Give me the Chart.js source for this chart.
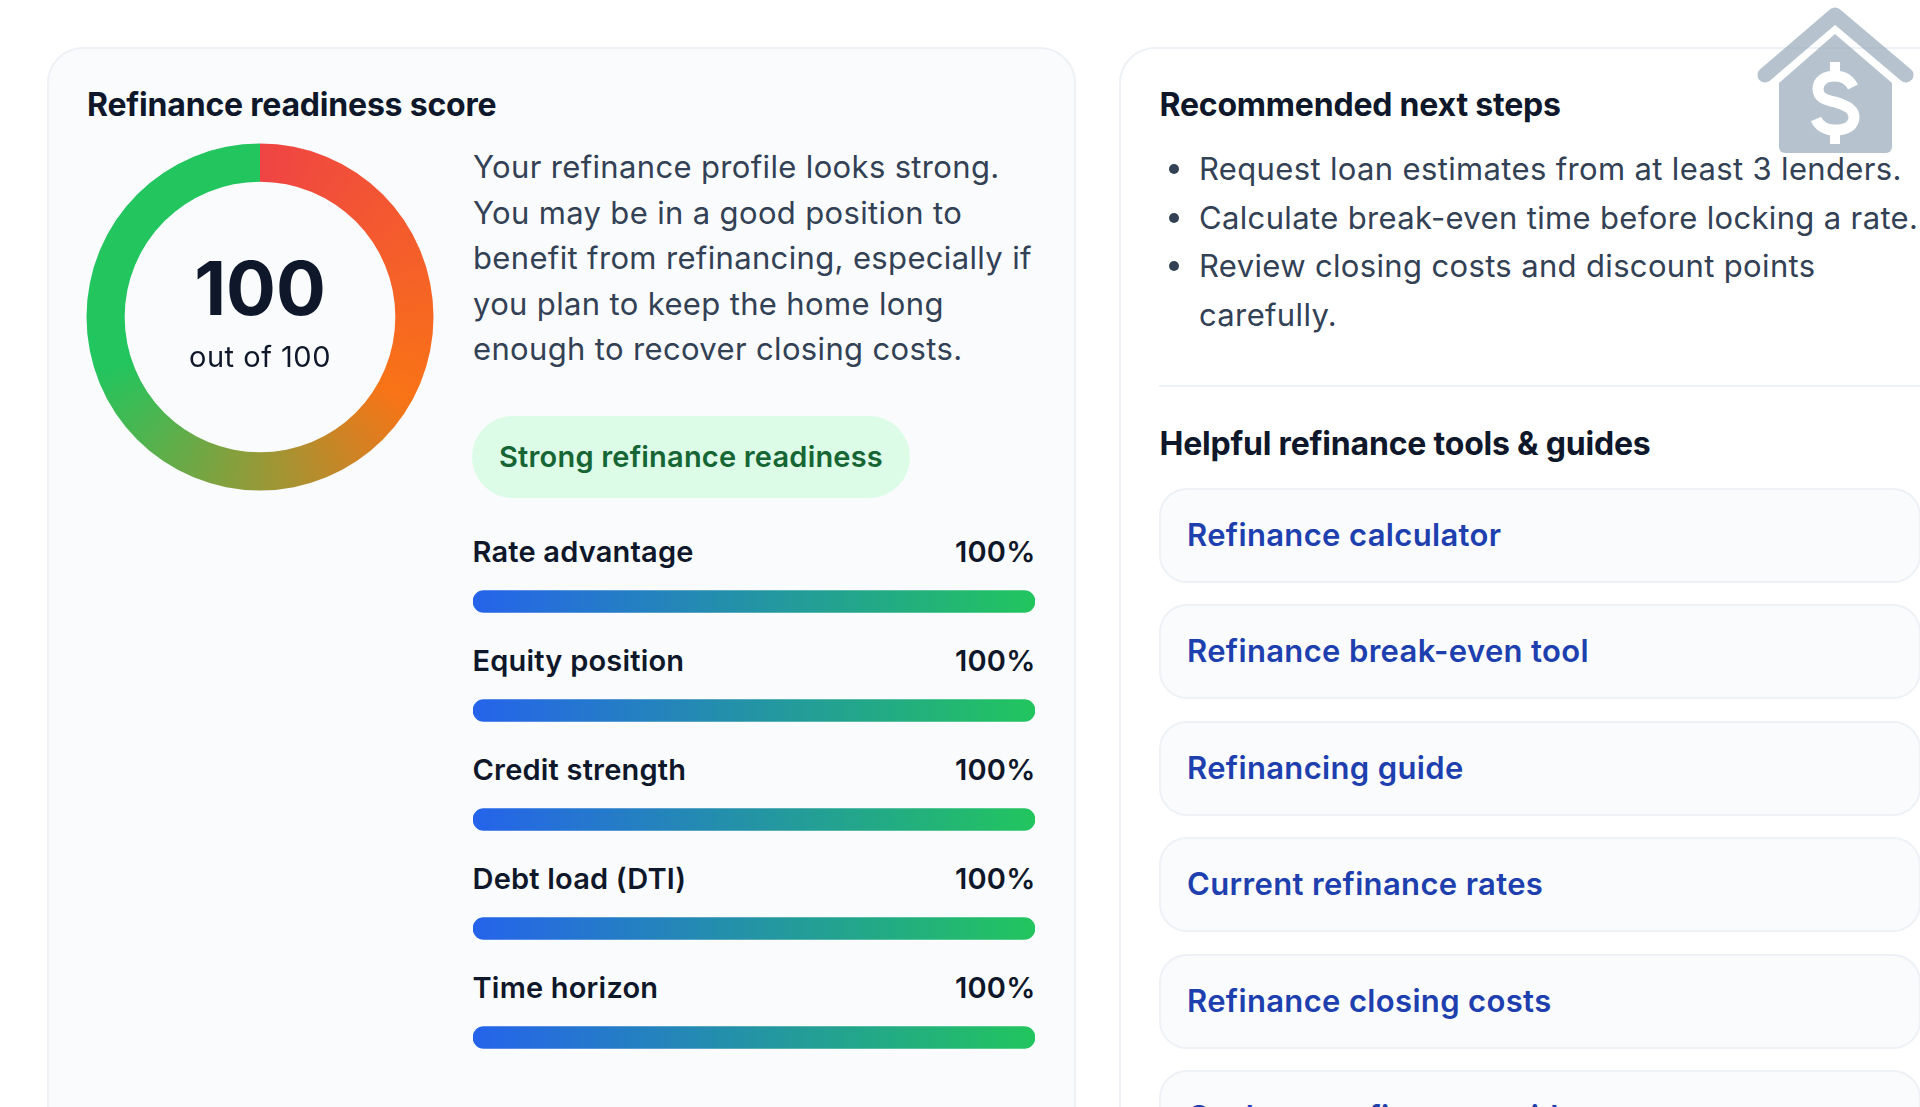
<!DOCTYPE html>
<html lang="en">
<head>
<meta charset="utf-8">
<title>Refinance readiness score</title>
<script src="https://cdn.jsdelivr.net/npm/chart.js@4"></script>
<style>
  html, body { margin: 0; padding: 0; background: #fff; }
  body { position: relative; width: 1920px; height: 1107px; overflow: hidden; font-family: Inter, sans-serif; color: #0f172a; }
  .card { position: absolute; top: 47px; height: 1200px; box-sizing: border-box; border: 2px solid #eef1f5; border-radius: 36px; }
  #left-card { left: 47px; width: 1029px; background: #f9fbfd; }
  #right-card { left: 1119px; width: 1000px; background: #fff; }
  h2 { position: absolute; margin: 0; font-size: 32px; line-height: 40px; font-weight: 700; letter-spacing: -0.2px; white-space: nowrap; }
  #gauge-wrap { position: absolute; left: 80px; top: 137px; width: 360px; height: 360px; }
  #gauge-center { position: absolute; left: 80px; top: 137px; width: 360px; height: 360px; text-align: center; }
  #score-value { position: absolute; left: 0; right: 0; top: 111px; font-size: 74px; line-height: 80px; font-weight: 700; }
  #score-sub { position: absolute; left: 0; right: 0; top: 202px; font-size: 29px; line-height: 36px; letter-spacing: 0.5px; }
  #summary { position: absolute; left: 473px; top: 144px; width: 580px; margin: 0; font-size: 31px; line-height: 45.6px; letter-spacing: 0.35px; color: #334155; }
  #badge { position: absolute; left: 472px; top: 416px; width: 438px; height: 82px; border-radius: 41px; background: #dcfce7; color: #166534; font-size: 29px; letter-spacing: 0.2px; font-weight: 600; line-height: 82px; text-align: center; }
  #bars-wrap { position: absolute; left: 473px; top: 546.5px; width: 562px; height: 545px; }
  .bar-label { position: absolute; left: 472.5px; width: 563px; display: flex; justify-content: space-between; font-size: 29px; letter-spacing: 0.2px; line-height: 36px; font-weight: 600; }
  #steps { position: absolute; left: 1160px; top: 145.4px; width: 760px; margin: 0; padding: 0 0 0 39px; list-style: none; font-size: 31px; letter-spacing: 0.35px; line-height: 48.4px; color: #334155; }
  #steps li { position: relative; }
  #steps li::before { content: ''; position: absolute; left: -30px; top: 19px; width: 10px; height: 10px; border-radius: 50%; background: #334155; }
  #divider { position: absolute; left: 1159px; top: 385px; width: 761px; height: 2px; background: #eef1f5; }
  .tool { position: absolute; left: 1159px; width: 762px; height: 95px; box-sizing: border-box; border: 2px solid #eef1f5; border-radius: 28px; background: #f9fbfd; color: #1e40af; font-size: 31px; letter-spacing: 0.35px; font-weight: 600; line-height: 90px; padding-left: 26px; }
  #house { position: absolute; left: 1750px; top: 0; width: 170px; height: 160px; }
</style>
</head>
<body>
  <div class="card" id="left-card"></div>
  <div class="card" id="right-card"></div>

  <h2 style="left:87px;top:85px">Refinance readiness score</h2>
  <div id="gauge-wrap"><canvas id="gaugeChart"></canvas></div>
  <div id="gauge-center">
    <div id="score-value"></div>
    <div id="score-sub"></div>
  </div>
  <p id="summary">Your refinance profile looks strong.<br>You may be in a good position to<br>benefit from refinancing, especially if<br>you plan to keep the home long<br>enough to recover closing costs.</p>
  <div id="badge">Strong refinance readiness</div>

  <div id="bar-labels"></div>
  <div id="bars-wrap"><canvas id="factorChart"></canvas></div>

  <h2 style="left:1159.5px;top:85px">Recommended next steps</h2>
  <ul id="steps"></ul>
  <div id="divider"></div>
  <h2 style="left:1159.5px;top:424px">Helpful refinance tools &amp; guides</h2>
  <div id="tools"></div>

  <svg id="house" viewBox="1750 0 170 160">
    <g opacity="0.68">
      <path d="M1765 75 L1835 15 L1906 75" fill="none" stroke="#94a8b9" stroke-width="15" stroke-linecap="round" stroke-linejoin="round"/>
      <path d="M1835 34 L1892 83 V147 a6 6 0 0 1 -6 6 H1785 a6 6 0 0 1 -6 -6 V83 Z" fill="#94a8b9"/>
    </g>
    <path d="M1835 62 V76 M1835 130 V144" stroke="#fff" stroke-width="10" fill="none"/>
    <path d="M1853 87 C1849 79 1843 76 1835 76 C1825 76 1818 81 1818 89 C1818 98 1826 100 1835 102 C1846 105 1854 109 1854 117 C1854 126 1846 130 1835 130 C1826 130 1819 126 1816 119" fill="none" stroke="#fff" stroke-width="11"/>
  </svg>

<script>
const SCORE_LABELS = ['Score', 'Remaining'];
const SCORE_VALUES = [100, 0];
const SCORE_MAX = 100;
const FACTOR_LABELS = ['Rate advantage', 'Equity position', 'Credit strength', 'Debt load (DTI)', 'Time horizon'];
const FACTOR_VALUES = [100, 100, 100, 100, 100];
const NEXT_STEPS = [
  'Request loan estimates from at least 3 lenders.',
  'Calculate break-even time before locking a rate.',
  'Review closing costs and discount points carefully.'
];
const TOOL_LINKS = [
  'Refinance calculator',
  'Refinance break-even tool',
  'Refinancing guide',
  'Current refinance rates',
  'Refinance closing costs',
  'Cash-out refinance guide'
];

function fillText() {
  document.getElementById('score-value').textContent = SCORE_VALUES[0];
  document.getElementById('score-sub').textContent = 'out of ' + SCORE_MAX;

  document.getElementById('steps').innerHTML = NEXT_STEPS.map(s => `<li>${s}</li>`).join('');

  document.getElementById('bar-labels').innerHTML = FACTOR_LABELS.map((label, i) =>
    `<div class="bar-label" style="top:${534 + i * 109}px"><span>${label}</span><span>${FACTOR_VALUES[i]}%</span></div>`
  ).join('');

  document.getElementById('tools').innerHTML = TOOL_LINKS.map((label, i) =>
    `<div class="tool" style="top:${488 + i * 116.4}px">${label}</div>`
  ).join('');
}

function gaugeGradient(context) {
  const chart = context.chart;
  if (!chart.chartArea) return '#22c55e';
  const cx = (chart.chartArea.left + chart.chartArea.right) / 2;
  const cy = (chart.chartArea.top + chart.chartArea.bottom) / 2;
  const g = chart.ctx.createConicGradient(-Math.PI / 2, cx, cy);
  g.addColorStop(0, '#ef4444');
  g.addColorStop(0.33, '#f97316');
  g.addColorStop(0.7, '#22c55e');
  g.addColorStop(1, '#22c55e');
  return g;
}

function barGradient(context) {
  const chart = context.chart;
  if (!chart.chartArea) return '#2563eb';
  const g = chart.ctx.createLinearGradient(chart.chartArea.left, 0, chart.chartArea.right, 0);
  g.addColorStop(0, '#2563eb');
  g.addColorStop(1, '#22c55e');
  return g;
}

function initGauge() {
  new Chart(document.getElementById('gaugeChart'), {
    type: 'doughnut',
    data: {
      labels: SCORE_LABELS,
      datasets: [{ data: SCORE_VALUES, backgroundColor: gaugeGradient, borderWidth: 0 }]
    },
    options: {
      responsive: true,
      maintainAspectRatio: false,
      animation: false,
      cutout: '78%',
      layout: { padding: 6.5 },
      plugins: { legend: { display: false }, tooltip: { enabled: false } }
    }
  });
}

function initBars() {
  new Chart(document.getElementById('factorChart'), {
    type: 'bar',
    data: {
      labels: FACTOR_LABELS,
      datasets: [{
        data: FACTOR_VALUES,
        backgroundColor: barGradient,
        borderRadius: 11,
        borderSkipped: false,
        barThickness: 22
      }]
    },
    options: {
      indexAxis: 'y',
      responsive: true,
      maintainAspectRatio: false,
      animation: false,
      scales: {
        x: { display: false, min: 0, max: 100 },
        y: { display: false }
      },
      plugins: { legend: { display: false }, tooltip: { enabled: false } }
    }
  });
}

document.addEventListener('DOMContentLoaded', () => {
  fillText();
  initGauge();
  initBars();
});
</script>
</body>
</html>
